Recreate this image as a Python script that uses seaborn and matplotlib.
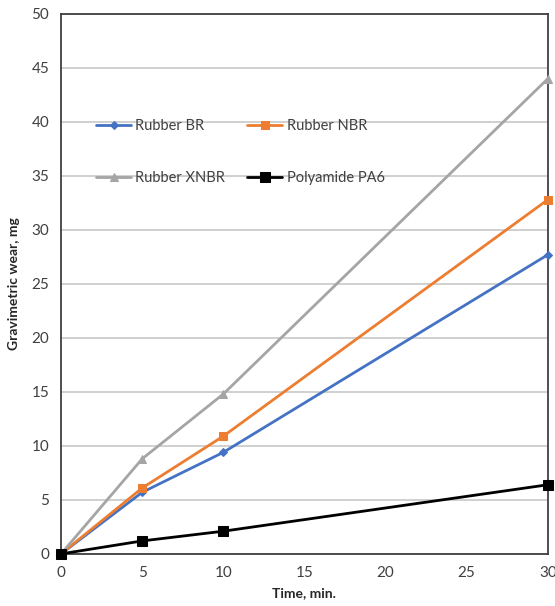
import pandas as pd
import matplotlib.pyplot as plt
import seaborn as sns

# ---------------- DATA ----------------
time_min = [0, 5, 10, 30]
rubber_br = [0, 5.7, 9.4, 27.7]
rubber_nbr = [0, 6.1, 10.9, 32.8]
rubber_xnbr = [0, 8.8, 14.8, 44.0]
polyamide_pa6 = [0, 1.2, 2.1, 6.4]

names = ["Rubber BR", "Rubber NBR", "Rubber XNBR", "Polyamide PA6"]
colors = ["#4472C4", "#ED7D31", "#A5A5A5", "#000000"]
markers = ["D", "s", "^", "s"]
msizes = [4, 6, 6, 7]

rows = []
for name, vals in zip(names, [rubber_br, rubber_nbr, rubber_xnbr, polyamide_pa6]):
    for t, v in zip(time_min, vals):
        rows.append({"time": t, "wear": v, "material": name})
df = pd.DataFrame(rows)

# ---------------- STYLE ----------------
sns.set_style("white")
plt.rcParams["font.family"] = ["Lato", "DejaVu Sans"]

fig = plt.figure(figsize=(5.55, 6.06), dpi=100)
ax = fig.add_axes([0.110, 0.086, 0.877, 0.891])

for name, c, m, ms in zip(names, colors, markers, msizes):
    sub = df[df["material"] == name]
    sns.lineplot(data=sub, x="time", y="wear", ax=ax, color=c, marker=m,
                 markersize=ms, markeredgecolor=c, linewidth=2, label=name,
                 clip_on=False, zorder=3)

ax.set_xlim(0, 30)
ax.set_ylim(0, 50)
ax.set_xticks(range(0, 31, 5))
ax.set_yticks(range(0, 51, 5))
ax.yaxis.grid(True, color="#c8c8c8", linewidth=1.2)
ax.xaxis.grid(False)
for s in ax.spines.values():
    s.set_color("#404040")
    s.set_linewidth(1.3)
ax.tick_params(axis="both", direction="out", length=5, width=1, color="#404040",
               labelsize=11, labelcolor="#404040")
ax.set_xlabel("Time, min.", fontsize=10, fontweight="bold", labelpad=5)
ax.set_ylabel("Gravimetric wear, mg", fontsize=10, fontweight="bold", labelpad=8)

# legend filled row by row: BR, NBR / XNBR, PA6
handles, labels = ax.get_legend_handles_labels()
order = [0, 2, 1, 3]
ax.legend([handles[i] for i in order], [labels[i] for i in order],
          loc="upper left", bbox_to_anchor=(0.045, 0.83), ncol=2, frameon=False,
          fontsize=10.5, handlelength=2.4, handletextpad=0.3,
          labelspacing=2.6, columnspacing=1.5, labelcolor="#404040")

fig.savefig("out.png", dpi=100)
